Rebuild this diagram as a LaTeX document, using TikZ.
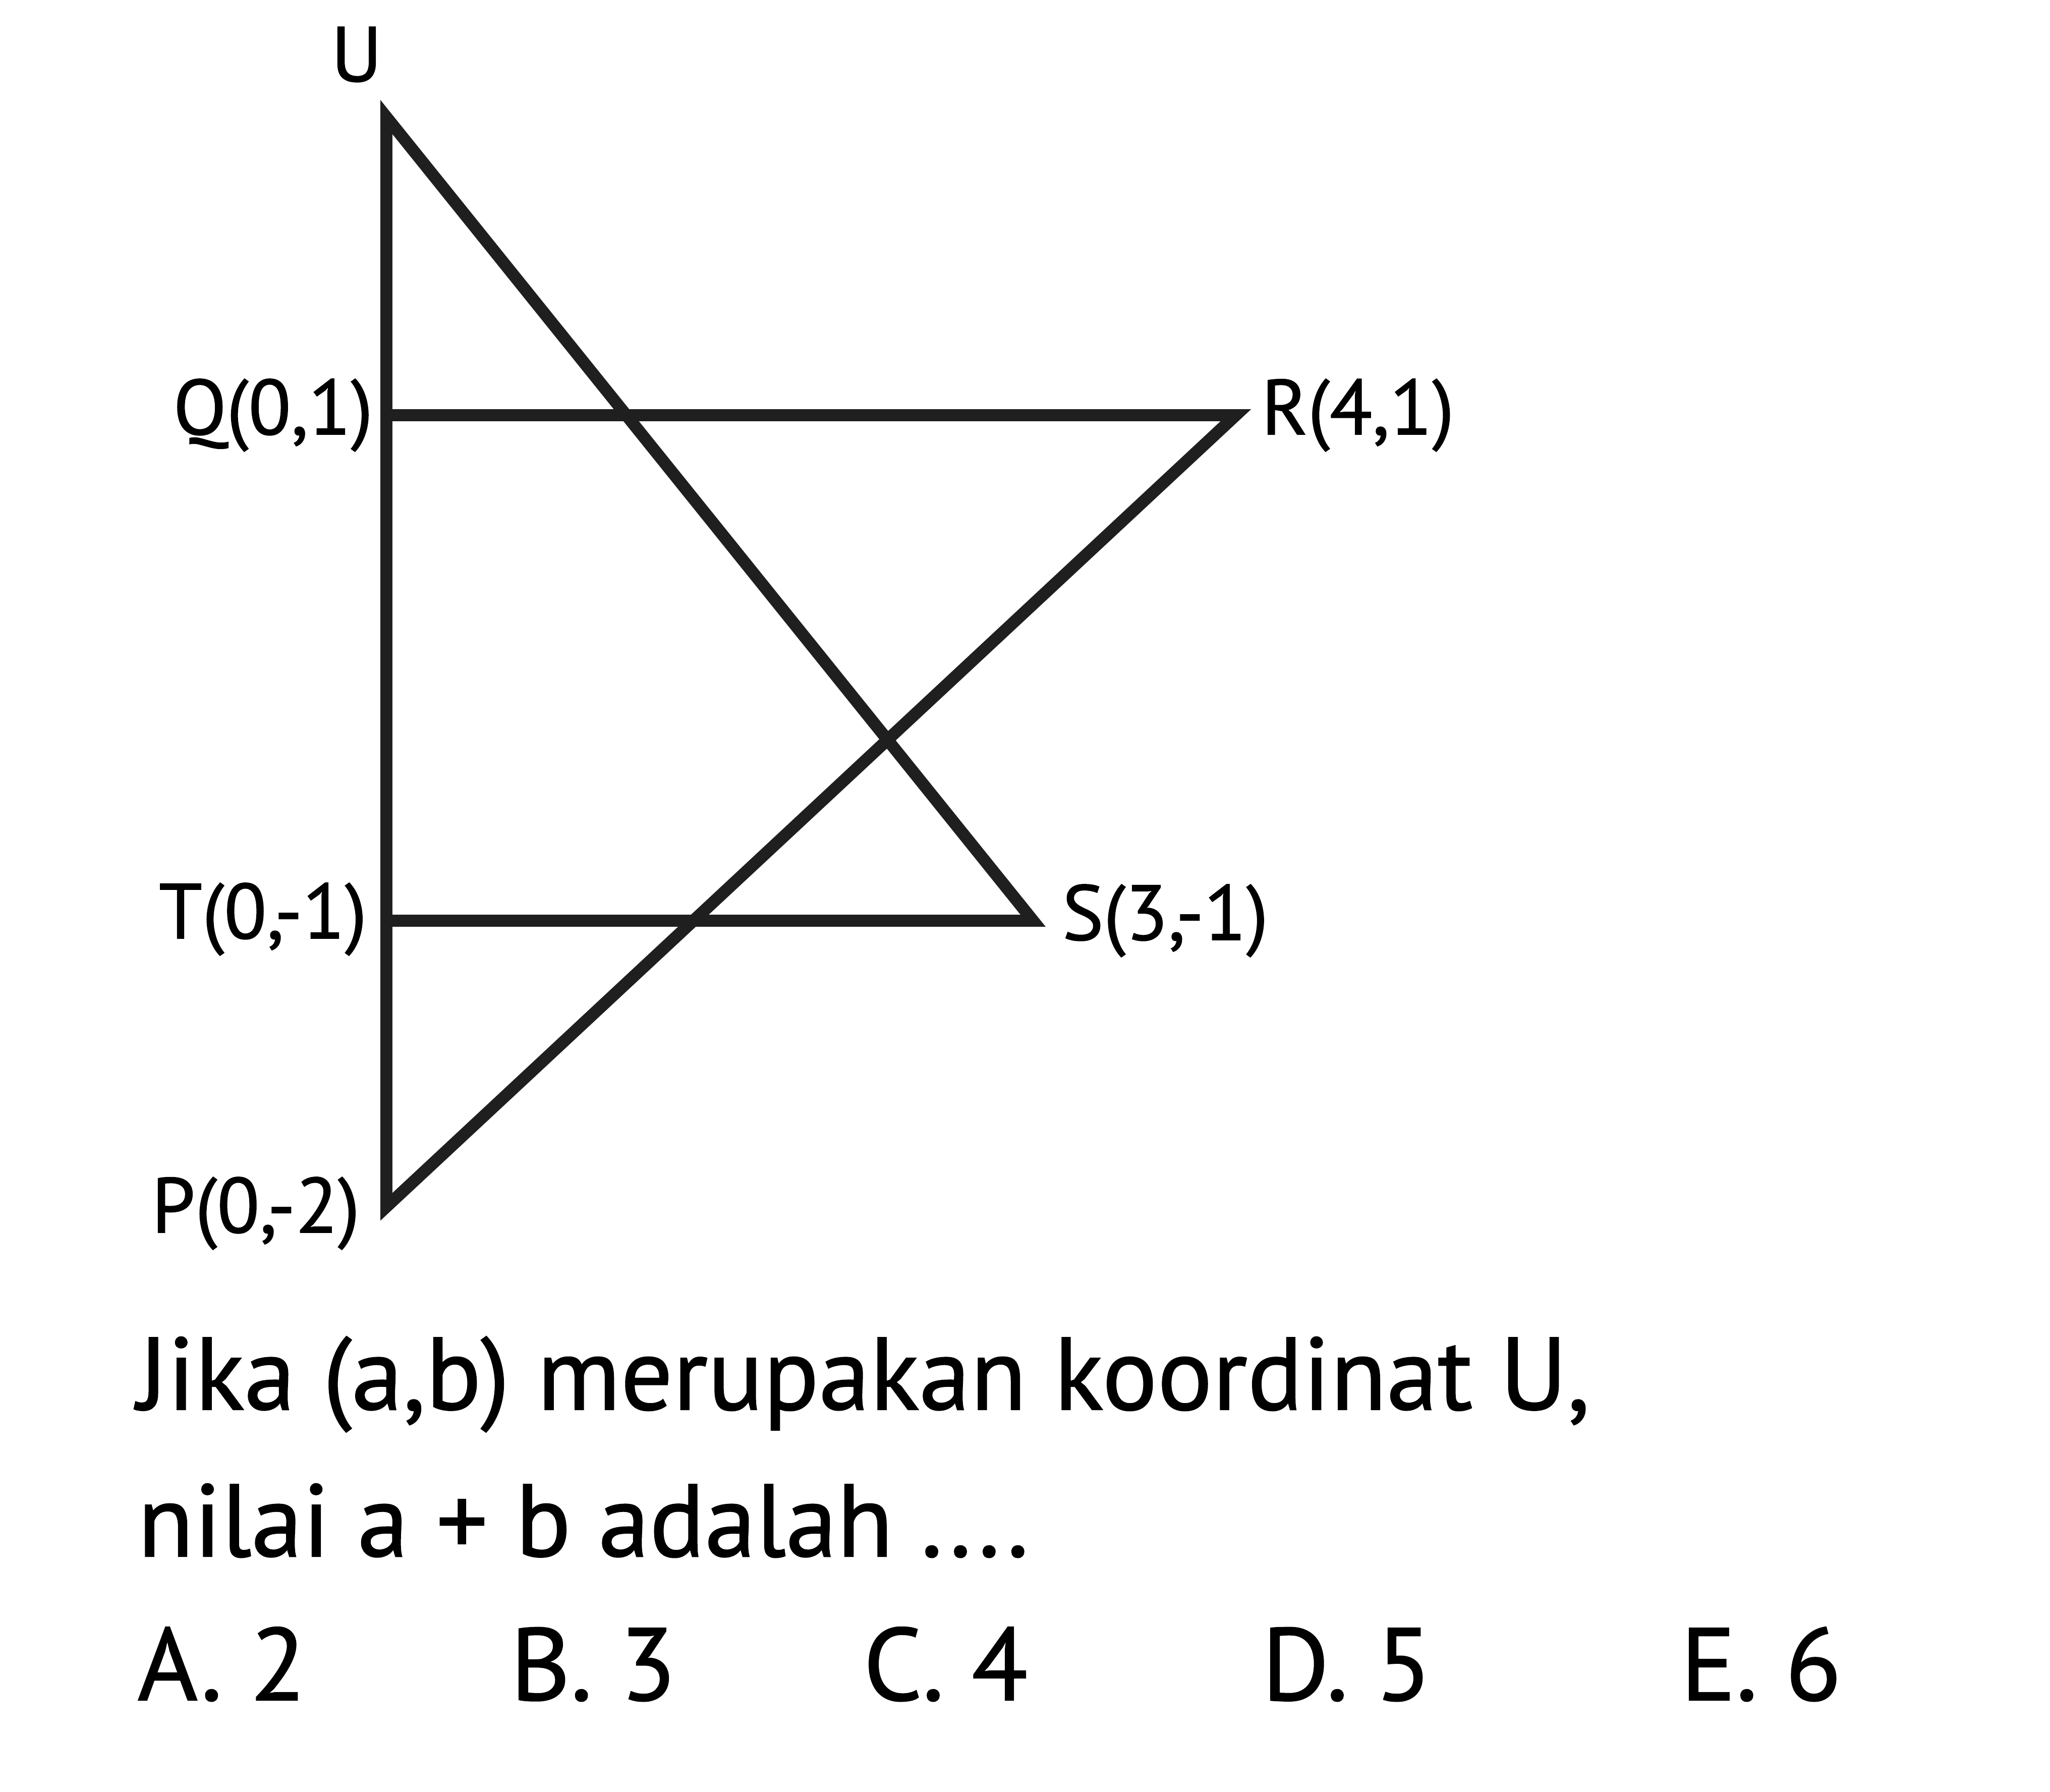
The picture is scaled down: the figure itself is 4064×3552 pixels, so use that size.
\documentclass[tikz,border=0pt]{standalone}
\usepackage{fontspec}
\setmainfont{PT Sans}[FakeBold=1]
\begin{document}
\begin{tikzpicture}[x=0.01cm,y=-0.01cm,
  edge/.style={line width=6.8pt, line join=miter, draw=black!88},
  lbl/.style={inner sep=0pt, font=\fontsize{44}{52}\selectfont},
  txt/.style={inner sep=0pt, anchor=base west, font=\fontsize{58}{68}\selectfont}]
\useasboundingbox (0,0) rectangle (4064,3552);
\fill[white] (0,0) rectangle (4064,3552);
% vertices
\coordinate (U) at (766,232);
\coordinate (Q) at (766,823);
\coordinate (R) at (2450,823);
\coordinate (T) at (766,1825);
\coordinate (S) at (2048,1825);
\coordinate (P) at (766,2392);
% lines
\draw[edge] (T) -- (S) -- (U) -- (P) -- (R) -- (Q);
% labels
\node[lbl] (lU) at (707,108) {U};
\node[lbl, anchor=east] (lQ) at (740,823) {Q(0,1)};
\node[lbl, anchor=west] (lR) at (2500,823) {R(4,1)};
\node[lbl, anchor=east] (lT) at (728,1822) {T(0,-1)};
\node[lbl, anchor=west] (lS) at (2105,1825) {S(3,-1)};
\node[lbl, anchor=east] (lP) at (714,2405) {P(0,-2)};
% question
\node[txt] (q1) at (272,2794) {Jika (a,b) merupakan koordinat U,};
\node[txt] (q2) at (272,3085) {nilai a + b adalah ....};
\node[txt] (oA) at (272,3370) {A.\ 2};
\node[txt] (oB) at (1011,3370) {B.\ 3};
\node[txt] (oC) at (1711,3370) {C.\ 4};
\node[txt] (oD) at (2501,3370) {D.\ 5};
\node[txt] (oE) at (3331,3370) {E.\ 6};
\end{tikzpicture}
\end{document}
